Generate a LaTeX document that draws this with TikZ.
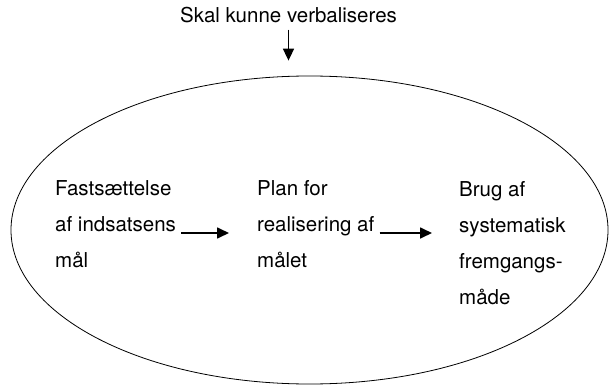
\documentclass[tikz,border=0pt]{standalone}
\usepackage{fontspec}
\setmainfont{TeX Gyre Heros}
\usetikzlibrary{arrows.meta,shapes.geometric}

\tikzset{
  felt/.style={align=left, inner sep=0pt, anchor=base west,
    font=\fontsize{20.5}{36}\selectfont},
  pil/.style={line width=1.7pt, -{Triangle[length=12pt,width=11pt]}}
}

\begin{document}
\begin{tikzpicture}[x=1pt,y=-1pt]
    \useasboundingbox (0,0) rectangle (610,385);

    % the oval round the three steps
    \node[draw, ellipse, line width=0.8pt, minimum width=597pt, minimum height=308pt] (oval) at (309.5,230) {};

    % label above, with its arrow down
    \node[felt, anchor=base] (top) at (288.5,23) {Skal kunne verbaliseres};
    \draw[pil, shorten <=6pt, shorten >=15pt] (top.south) -- (top.south |- oval.north);

    % three steps (anchored at the baseline of their last line)
    \node[felt] (fast) at (55,267) {Fastsættelse\\af indsatsens\\mål};
    \node[felt] (plan) at (257,267) {Plan for\\realisering af\\målet};
    \node[felt] (brug) at (459,304) {Brug af\\systematisk\\fremgangs-\\måde};

    \coordinate (row) at (0,233);
    \draw[pil, shorten <=5pt, shorten >=28pt] (fast.east |- row) -- (plan.west |- row);
    \draw[pil, shorten <=5pt, shorten >=27pt] (plan.east |- row) -- (brug.west |- row);
\end{tikzpicture}
\end{document}
